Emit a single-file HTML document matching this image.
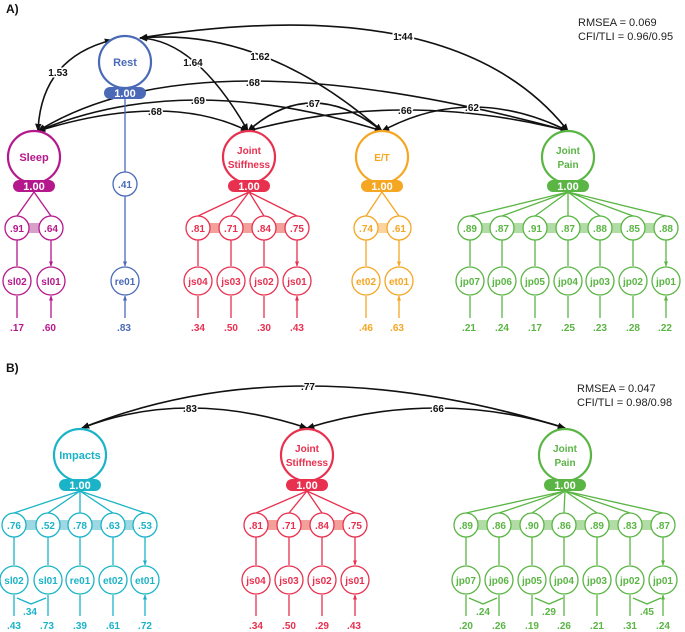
<!DOCTYPE html>
<html><head><meta charset="utf-8"><style>
html,body{margin:0;padding:0;background:#fff;}
svg{display:block;font-family:"Liberation Sans",Arial,sans-serif;font-weight:bold;}
.lb{font-size:10px;fill:#111;stroke:#fff;stroke-width:3;paint-order:stroke;text-anchor:middle;}
.fit{font-size:11px;font-weight:normal;fill:#222;}
</style></head><body>
<svg width="685" height="632" viewBox="0 0 685 632" xmlns="http://www.w3.org/2000/svg">
<defs>
<marker id="k" viewBox="0 0 10 10" refX="9" refY="5" markerWidth="5" markerHeight="5" orient="auto-start-reverse"><path d="M0,1L10,5L0,9z" fill="#111"/></marker>
<marker id="m" viewBox="0 0 10 10" refX="9" refY="5" markerWidth="4" markerHeight="4" orient="auto"><path d="M0,1L10,5L0,9z" fill="#b5178c"/></marker>
<marker id="b" viewBox="0 0 10 10" refX="9" refY="5" markerWidth="4" markerHeight="4" orient="auto"><path d="M0,1L10,5L0,9z" fill="#4a6ab8"/></marker>
<marker id="r" viewBox="0 0 10 10" refX="9" refY="5" markerWidth="4" markerHeight="4" orient="auto"><path d="M0,1L10,5L0,9z" fill="#e8304f"/></marker>
<marker id="o" viewBox="0 0 10 10" refX="9" refY="5" markerWidth="4" markerHeight="4" orient="auto"><path d="M0,1L10,5L0,9z" fill="#f5a623"/></marker>
<marker id="g" viewBox="0 0 10 10" refX="9" refY="5" markerWidth="4" markerHeight="4" orient="auto"><path d="M0,1L10,5L0,9z" fill="#5ab544"/></marker>
<marker id="c" viewBox="0 0 10 10" refX="9" refY="5" markerWidth="4" markerHeight="4" orient="auto"><path d="M0,1L10,5L0,9z" fill="#1ab3c8"/></marker>
</defs>

<text x="6" y="13" font-size="12" fill="#111">A)</text>
<text x="578" y="26" class="fit">RMSEA = 0.069</text>
<text x="578" y="40" class="fit">CFI/TLI = 0.96/0.95</text>

<!-- Panel A arcs -->
<g fill="none" stroke="#111" stroke-width="1.6" marker-start="url(#k)" marker-end="url(#k)">
<path d="M38,131 Q41,58 112,40"/>
<path d="M140,38 Q196,40 248,131"/>
<path d="M140,38 Q263,27 382,131"/>
<path d="M140,38 Q456,-12 568,131"/>
<path d="M38,131 Q200,31 568,131"/>
<path d="M38,131 Q186,69 382,131"/>
<path d="M38,131 Q167,91 248,131"/>
<path d="M248,131 Q311,75 382,131"/>
<path d="M248,131 Q402,89 568,131"/>
<path d="M382,131 Q471,83 568,131"/>
</g>
<text x="58" y="76" class="lb">1.53</text>
<text x="193" y="66" class="lb">1.64</text>
<text x="260" y="60" class="lb">1.62</text>
<text x="403" y="40" class="lb">1.44</text>
<text x="253" y="86" class="lb">.68</text>
<text x="198" y="104" class="lb">.69</text>
<text x="155" y="115" class="lb">.68</text>
<text x="313" y="107" class="lb">.67</text>
<text x="405" y="114" class="lb">.66</text>
<text x="472" y="111" class="lb">.62</text>

<!-- Sleep -->
<g stroke="#b5178c" fill="none" stroke-width="1.3">
<rect x="17" y="223" width="34" height="10" fill="#d8a0c8" stroke="none"/>
<circle cx="34" cy="157" r="26" stroke-width="2.2" fill="#fff"/>
<path d="M34,192L17,216M34,192L51,216"/>
<circle cx="17" cy="228" r="12" fill="#fff"/><circle cx="51" cy="228" r="12" fill="#fff"/>
<path d="M17,240L17,266M51,240L51,266" marker-end="url(#m)"/>
<circle cx="17" cy="281" r="14" fill="#fff"/><circle cx="51" cy="281" r="14" fill="#fff"/>
<path d="M17,318L17,296M51,318L51,296" marker-end="url(#m)"/>
</g>
<rect x="13" y="180" width="42" height="12" rx="6" fill="#b5178c"/>
<g fill="#b5178c" font-size="10" text-anchor="middle">
<text x="34" y="161" font-size="11">Sleep</text>
<text x="17" y="232">.91</text><text x="51" y="232">.64</text>
<text x="17" y="285">sl02</text><text x="51" y="285">sl01</text>
<text x="17" y="331">.17</text><text x="49" y="331">.60</text>
</g>
<text x="34" y="190" fill="#fff" font-size="11" text-anchor="middle">1.00</text>

<!-- Rest -->
<g stroke="#4a6ab8" fill="none" stroke-width="1.3">
<circle cx="125" cy="62" r="26" stroke-width="2.2" fill="#fff"/>
<path d="M125,99L125,172"/>
<circle cx="125" cy="184" r="12" fill="#fff"/>
<path d="M125,196L125,266" marker-end="url(#b)"/>
<circle cx="125" cy="281" r="14" fill="#fff"/>
<path d="M125,318L125,296" marker-end="url(#b)"/>
</g>
<rect x="104" y="87" width="42" height="12" rx="6" fill="#4a6ab8"/>
<g fill="#4a6ab8" font-size="10" text-anchor="middle">
<text x="125" y="66" font-size="11">Rest</text>
<text x="125" y="188">.41</text>
<text x="125" y="285">re01</text>
<text x="124" y="331">.83</text>
</g>
<text x="125" y="97" fill="#fff" font-size="11" text-anchor="middle">1.00</text>

<!-- Joint Stiffness A -->
<g stroke="#e8304f" fill="none" stroke-width="1.3">
<rect x="198" y="223" width="99" height="10" fill="#f4a09a" stroke="none"/>
<circle cx="249" cy="157" r="26" stroke-width="2.2" fill="#fff"/>
<path d="M249,192L198,216M249,192L231,216M249,192L264,216M249,192L297,216"/>
<circle cx="198" cy="228" r="12" fill="#fff"/><circle cx="231" cy="228" r="12" fill="#fff"/><circle cx="264" cy="228" r="12" fill="#fff"/><circle cx="297" cy="228" r="12" fill="#fff"/>
<path d="M198,240L198,266M231,240L231,266M264,240L264,266M297,240L297,266" marker-end="url(#r)"/>
<circle cx="198" cy="281" r="14" fill="#fff"/><circle cx="231" cy="281" r="14" fill="#fff"/><circle cx="264" cy="281" r="14" fill="#fff"/><circle cx="297" cy="281" r="14" fill="#fff"/>
<path d="M198,318L198,296M231,318L231,296M264,318L264,296M297,318L297,296" marker-end="url(#r)"/>
</g>
<rect x="228" y="180" width="42" height="12" rx="6" fill="#e8304f"/>
<g fill="#e8304f" font-size="10" text-anchor="middle">
<text x="249" y="154">Joint</text><text x="249" y="168">Stiffness</text>
<text x="198" y="232">.81</text><text x="231" y="232">.71</text><text x="264" y="232">.84</text><text x="297" y="232">.75</text>
<text x="198" y="285">js04</text><text x="231" y="285">js03</text><text x="264" y="285">js02</text><text x="297" y="285">js01</text>
<text x="198" y="331">.34</text><text x="231" y="331">.50</text><text x="264" y="331">.30</text><text x="297" y="331">.43</text>
</g>
<text x="249" y="190" fill="#fff" font-size="11" text-anchor="middle">1.00</text>

<!-- E/T -->
<g stroke="#f5a623" fill="none" stroke-width="1.3">
<rect x="366" y="223" width="33" height="10" fill="#fbd3a0" stroke="none"/>
<circle cx="382" cy="157" r="26" stroke-width="2.2" fill="#fff"/>
<path d="M382,192L366,216M382,192L399,216"/>
<circle cx="366" cy="228" r="12" fill="#fff"/><circle cx="399" cy="228" r="12" fill="#fff"/>
<path d="M366,240L366,266M399,240L399,266" marker-end="url(#o)"/>
<circle cx="366" cy="281" r="14" fill="#fff"/><circle cx="399" cy="281" r="14" fill="#fff"/>
<path d="M366,318L366,296M399,318L399,296" marker-end="url(#o)"/>
</g>
<rect x="361" y="180" width="42" height="12" rx="6" fill="#f5a623"/>
<g fill="#f5a623" font-size="10" text-anchor="middle">
<text x="382" y="161">E/T</text>
<text x="366" y="232">.74</text><text x="399" y="232">.61</text>
<text x="366" y="285">et02</text><text x="399" y="285">et01</text>
<text x="366" y="331">.46</text><text x="397" y="331">.63</text>
</g>
<text x="382" y="190" fill="#fff" font-size="11" text-anchor="middle">1.00</text>

<!-- Joint Pain A -->
<g stroke="#5ab544" fill="none" stroke-width="1.3">
<rect x="470" y="223" width="196" height="10" fill="#b2dca6" stroke="none"/>
<circle cx="568" cy="157" r="26" stroke-width="2.2" fill="#fff"/>
<path d="M568,192L470,216M568,192L502,216M568,192L535,216M568,192L568,216M568,192L600,216M568,192L633,216M568,192L666,216"/>
<g fill="#fff"><circle cx="470" cy="228" r="12"/><circle cx="502" cy="228" r="12"/><circle cx="535" cy="228" r="12"/><circle cx="568" cy="228" r="12"/><circle cx="600" cy="228" r="12"/><circle cx="633" cy="228" r="12"/><circle cx="666" cy="228" r="12"/></g>
<path d="M470,240L470,266M502,240L502,266M535,240L535,266M568,240L568,266M600,240L600,266M633,240L633,266M666,240L666,266" marker-end="url(#g)"/>
<g fill="#fff"><circle cx="470" cy="281" r="14"/><circle cx="502" cy="281" r="14"/><circle cx="535" cy="281" r="14"/><circle cx="568" cy="281" r="14"/><circle cx="600" cy="281" r="14"/><circle cx="633" cy="281" r="14"/><circle cx="666" cy="281" r="14"/></g>
<path d="M470,318L470,296M502,318L502,296M535,318L535,296M568,318L568,296M600,318L600,296M633,318L633,296M666,318L666,296" marker-end="url(#g)"/>
</g>
<rect x="547" y="180" width="42" height="12" rx="6" fill="#5ab544"/>
<g fill="#5ab544" font-size="10" text-anchor="middle">
<text x="568" y="154">Joint</text><text x="568" y="168">Pain</text>
<text x="470" y="232">.89</text><text x="502" y="232">.87</text><text x="535" y="232">.91</text><text x="568" y="232">.87</text><text x="600" y="232">.88</text><text x="633" y="232">.85</text><text x="666" y="232">.88</text>
<text x="470" y="285">jp07</text><text x="502" y="285">jp06</text><text x="535" y="285">jp05</text><text x="568" y="285">jp04</text><text x="600" y="285">jp03</text><text x="633" y="285">jp02</text><text x="666" y="285">jp01</text>
<text x="469" y="331">.21</text><text x="502" y="331">.24</text><text x="535" y="331">.17</text><text x="568" y="331">.25</text><text x="600" y="331">.23</text><text x="633" y="331">.28</text><text x="665" y="331">.22</text>
</g>
<text x="568" y="190" fill="#fff" font-size="11" text-anchor="middle">1.00</text>

<!-- Panel B -->
<text x="6" y="372" font-size="12" fill="#111">B)</text>
<text x="577" y="392" class="fit">RMSEA = 0.047</text>
<text x="577" y="406" class="fit">CFI/TLI = 0.98/0.98</text>
<g fill="none" stroke="#111" stroke-width="1.6" marker-start="url(#k)" marker-end="url(#k)">
<path d="M82,428 Q185,388 307,428"/>
<path d="M82,428 Q292,344 565,428"/>
<path d="M307,428 Q438,388 565,428"/>
</g>
<text x="190" y="412" class="lb">.83</text>
<text x="308" y="390" class="lb">.77</text>
<text x="437" y="412" class="lb">.66</text>

<!-- Impacts -->
<g stroke="#1ab3c8" fill="none" stroke-width="1.3">
<rect x="14" y="520" width="131" height="10" fill="#9ed8e2" stroke="none"/>
<circle cx="80" cy="455" r="26" stroke-width="2.2" fill="#fff"/>
<path d="M80,491L14,513M80,491L48,513M80,491L80,513M80,491L113,513M80,491L145,513"/>
<g fill="#fff"><circle cx="14" cy="525" r="12"/><circle cx="48" cy="525" r="12"/><circle cx="80" cy="525" r="12"/><circle cx="113" cy="525" r="12"/><circle cx="145" cy="525" r="12"/></g>
<path d="M14,537L14,565M48,537L48,565M80,537L80,565M113,537L113,565M145,537L145,565" marker-end="url(#c)"/>
<g fill="#fff"><circle cx="14" cy="580" r="14"/><circle cx="48" cy="580" r="14"/><circle cx="80" cy="580" r="14"/><circle cx="113" cy="580" r="14"/><circle cx="145" cy="580" r="14"/></g>
<path d="M14,616L14,595M48,616L48,595M80,616L80,595M113,616L113,595M145,616L145,595" marker-end="url(#c)"/>
<path d="M17,598L31,604L46,598"/>
</g>
<rect x="59" y="479" width="42" height="12" rx="6" fill="#1ab3c8"/>
<g fill="#1ab3c8" font-size="10" text-anchor="middle">
<text x="80" y="459" font-size="11">Impacts</text>
<text x="14" y="529">.76</text><text x="48" y="529">.52</text><text x="80" y="529">.78</text><text x="113" y="529">.63</text><text x="145" y="529">.53</text>
<text x="14" y="584">sl02</text><text x="48" y="584">sl01</text><text x="80" y="584">re01</text><text x="113" y="584">et02</text><text x="145" y="584">et01</text>
<text x="30" y="615">.34</text>
<text x="14" y="629">.43</text><text x="47" y="629">.73</text><text x="80" y="629">.39</text><text x="113" y="629">.61</text><text x="145" y="629">.72</text>
</g>
<text x="80" y="489" fill="#fff" font-size="11" text-anchor="middle">1.00</text>

<!-- Joint Stiffness B -->
<g stroke="#e8304f" fill="none" stroke-width="1.3">
<rect x="256" y="520" width="99" height="10" fill="#f4a09a" stroke="none"/>
<circle cx="307" cy="455" r="26" stroke-width="2.2" fill="#fff"/>
<path d="M307,491L256,513M307,491L289,513M307,491L322,513M307,491L355,513"/>
<g fill="#fff"><circle cx="256" cy="525" r="12"/><circle cx="289" cy="525" r="12"/><circle cx="322" cy="525" r="12"/><circle cx="355" cy="525" r="12"/></g>
<path d="M256,537L256,565M289,537L289,565M322,537L322,565M355,537L355,565" marker-end="url(#r)"/>
<g fill="#fff"><circle cx="256" cy="580" r="14"/><circle cx="289" cy="580" r="14"/><circle cx="322" cy="580" r="14"/><circle cx="355" cy="580" r="14"/></g>
<path d="M256,616L256,595M289,616L289,595M322,616L322,595M355,616L355,595" marker-end="url(#r)"/>
</g>
<rect x="286" y="479" width="42" height="12" rx="6" fill="#e8304f"/>
<g fill="#e8304f" font-size="10" text-anchor="middle">
<text x="307" y="452">Joint</text><text x="307" y="466">Stiffness</text>
<text x="256" y="529">.81</text><text x="289" y="529">.71</text><text x="322" y="529">.84</text><text x="355" y="529">.75</text>
<text x="256" y="584">js04</text><text x="289" y="584">js03</text><text x="322" y="584">js02</text><text x="355" y="584">js01</text>
<text x="256" y="629">.34</text><text x="289" y="629">.50</text><text x="322" y="629">.29</text><text x="354" y="629">.43</text>
</g>
<text x="307" y="489" fill="#fff" font-size="11" text-anchor="middle">1.00</text>

<!-- Joint Pain B -->
<g stroke="#5ab544" fill="none" stroke-width="1.3">
<rect x="466" y="520" width="197" height="10" fill="#b2dca6" stroke="none"/>
<circle cx="565" cy="455" r="26" stroke-width="2.2" fill="#fff"/>
<path d="M565,491L466,513M565,491L499,513M565,491L532,513M565,491L564,513M565,491L597,513M565,491L630,513M565,491L663,513"/>
<g fill="#fff"><circle cx="466" cy="525" r="12"/><circle cx="499" cy="525" r="12"/><circle cx="532" cy="525" r="12"/><circle cx="564" cy="525" r="12"/><circle cx="597" cy="525" r="12"/><circle cx="630" cy="525" r="12"/><circle cx="663" cy="525" r="12"/></g>
<path d="M466,537L466,565M499,537L499,565M532,537L532,565M564,537L564,565M597,537L597,565M630,537L630,565M663,537L663,565" marker-end="url(#g)"/>
<g fill="#fff"><circle cx="466" cy="580" r="14"/><circle cx="499" cy="580" r="14"/><circle cx="532" cy="580" r="14"/><circle cx="564" cy="580" r="14"/><circle cx="597" cy="580" r="14"/><circle cx="630" cy="580" r="14"/><circle cx="663" cy="580" r="14"/></g>
<path d="M466,616L466,595M499,616L499,595M532,616L532,595M564,616L564,595M597,616L597,595M630,616L630,595M663,616L663,595" marker-end="url(#g)"/>
<path d="M469,598L483,604L497,598M535,598L549,604L563,598M633,598L647,604L661,598"/>
</g>
<rect x="544" y="479" width="42" height="12" rx="6" fill="#5ab544"/>
<g fill="#5ab544" font-size="10" text-anchor="middle">
<text x="565" y="452">Joint</text><text x="565" y="466">Pain</text>
<text x="466" y="529">.89</text><text x="499" y="529">.86</text><text x="532" y="529">.90</text><text x="564" y="529">.86</text><text x="597" y="529">.89</text><text x="630" y="529">.83</text><text x="663" y="529">.87</text>
<text x="466" y="584">jp07</text><text x="499" y="584">jp06</text><text x="532" y="584">jp05</text><text x="564" y="584">jp04</text><text x="597" y="584">jp03</text><text x="630" y="584">jp02</text><text x="663" y="584">jp01</text>
<text x="483" y="615">.24</text><text x="549" y="615">.29</text><text x="647" y="615">.45</text>
<text x="466" y="629">.20</text><text x="499" y="629">.26</text><text x="532" y="629">.19</text><text x="564" y="629">.26</text><text x="597" y="629">.21</text><text x="630" y="629">.31</text><text x="663" y="629">.24</text>
</g>
<text x="565" y="489" fill="#fff" font-size="11" text-anchor="middle">1.00</text>
</svg>
</body></html>
